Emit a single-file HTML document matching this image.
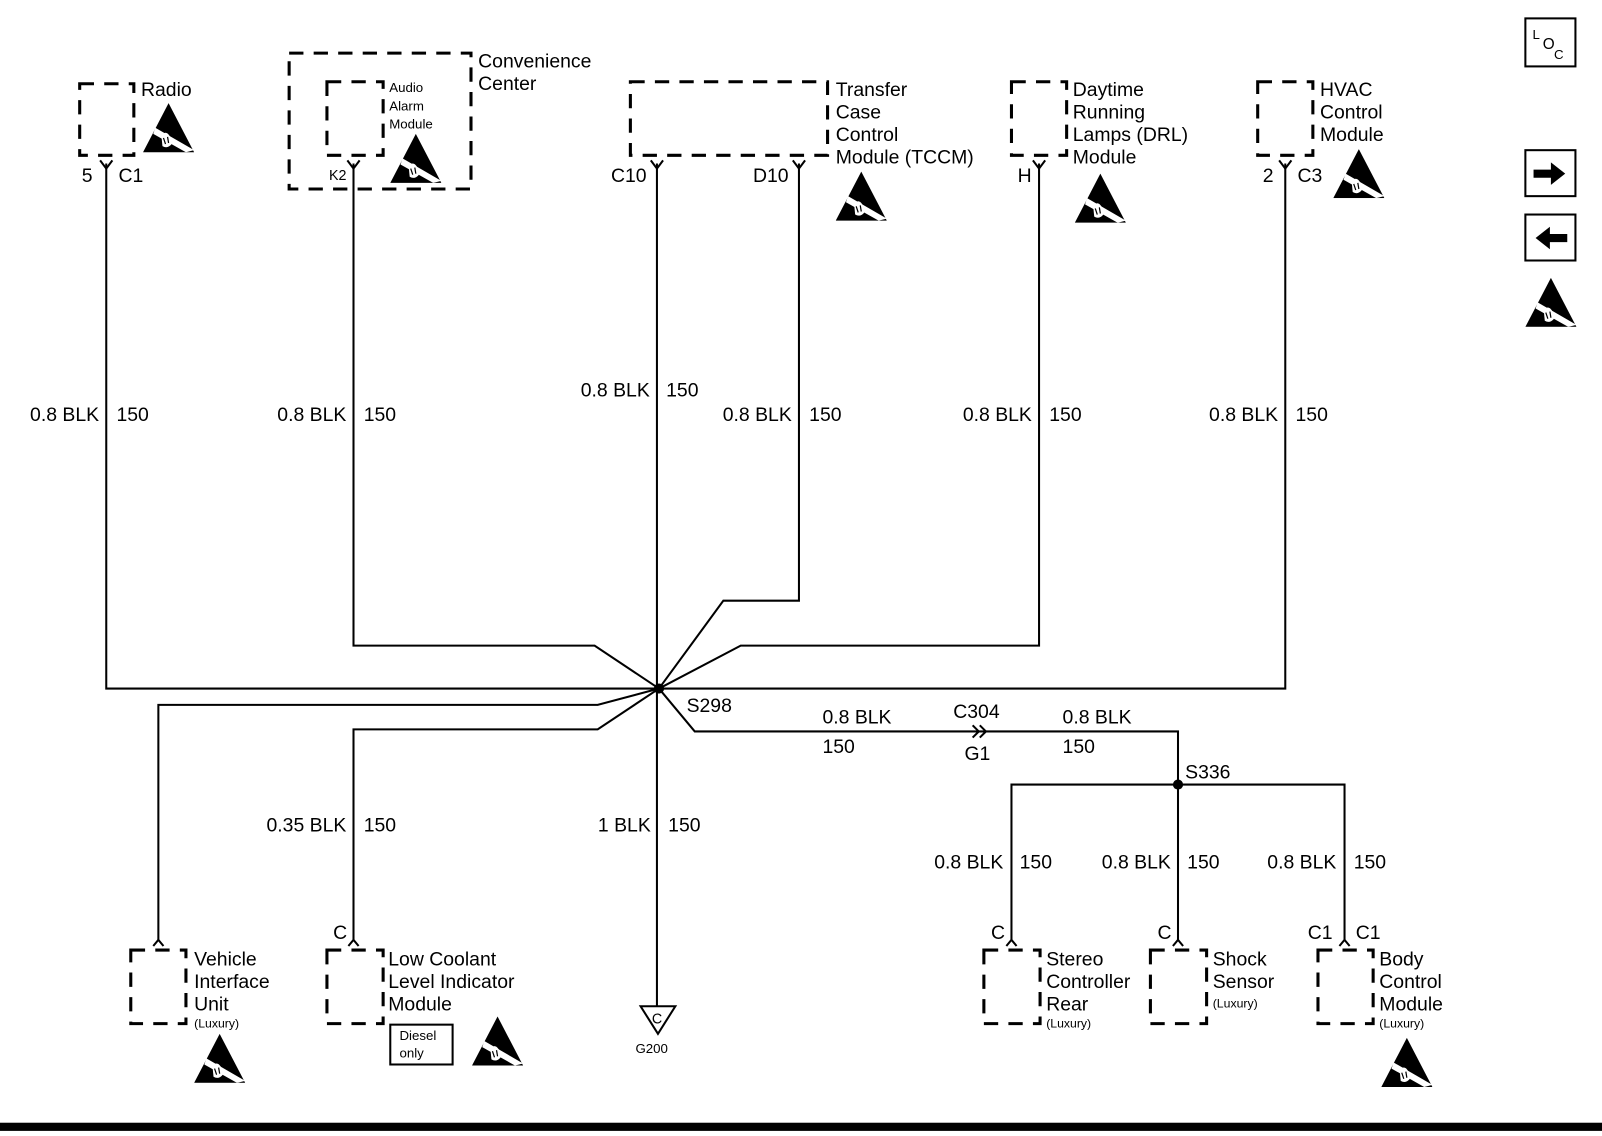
<!DOCTYPE html>
<html><head><meta charset="utf-8"><style>html,body{margin:0;padding:0;background:#fff}svg{display:block}</style></head>
<body>
<svg width="1602" height="1136" viewBox="0 0 1568 1112" preserveAspectRatio="none" xmlns="http://www.w3.org/2000/svg" font-family="Liberation Sans, sans-serif" font-size="19">
<defs>
<symbol id="esd" viewBox="0 0 50 48">
<polygon points="25,0 50,48 0,48" fill="#000"/>
<polygon points="12,24 50,46 42,48 10,30" fill="#fff"/>
<path d="M18,32 q4,-6 8,0 l2,8 q-4,5 -9,2 z" fill="#fff"/>
<path d="M20,34 l2,6 M24,33 l1,6" stroke="#000" stroke-width="1.2"/>
</symbol>
</defs>
<g fill="none" stroke="#000" stroke-width="3" stroke-dasharray="14 10">
<rect x="78" y="82" width="53" height="70"/>
<rect x="283" y="52" width="178" height="133"/>
<rect x="320" y="80" width="55" height="72"/>
<rect x="617" y="80" width="193" height="72"/>
<rect x="990" y="80" width="54" height="72"/>
<rect x="1231" y="80" width="54" height="72"/>
<rect x="128" y="930" width="54" height="72"/>
<rect x="320" y="930" width="55" height="72"/>
<rect x="963" y="930" width="55" height="72"/>
<rect x="1126" y="930" width="55" height="72"/>
<rect x="1290" y="930" width="54" height="72"/>
</g>
<g fill="none" stroke="#000" stroke-width="2">
<!-- top wires -->
<polyline points="104,160 104,674 1258,674 1258,160"/>
<polyline points="346,160 346,632 582,632 645,674"/>
<polyline points="643,160 643,985"/>
<polyline points="782,160 782,588 708,588 645,674"/>
<polyline points="1017,160 1017,632 725,632 645,674"/>
<!-- lower -->
<polyline points="645,674 585,690 155,690 155,920"/>
<polyline points="645,674 585,714 346,714 346,920"/>
<polyline points="645,674 680,716 1153,716 1153,920"/>
<polyline points="990,920 990,768 1316,768 1316,920"/>
<!-- Y connectors -->
<path d="M98,157 L104,165 L110,157 M340,157 L346,165 L352,157 M637,157 L643,165 L649,157 M776,157 L782,165 L788,157 M1011,157 L1017,165 L1023,157 M1252,157 L1258,165 L1264,157"/>
<path d="M150,926 L155,920 L160,926 M341,926 L346,920 L351,926 M985,926 L990,920 L995,926 M1148,926 L1153,920 L1158,926 M1311,926 L1316,920 L1321,926"/>
<path d="M952,710 L958,716 L952,722 M959,710 L965,716 L959,722"/>
<polygon points="627,985 661,985 644,1012"/>
<rect x="382" y="1003" width="61" height="39"/>
<rect x="1493" y="18" width="49" height="47"/>
<rect x="1493" y="147" width="49" height="45"/>
<rect x="1493" y="210" width="49" height="45"/>
</g>
<circle cx="645" cy="674" r="5" fill="#000"/>
<circle cx="1153" cy="768" r="5" fill="#000"/>
<rect x="0" y="1099" width="1568" height="8" fill="#000"/>
<polygon points="1501,166 1518,166 1518,159 1532,170 1518,181 1518,174 1501,174" fill="#000"/>
<polygon points="1534,229 1517,229 1517,222 1503,233 1517,244 1517,237 1534,237" fill="#000"/>
<use href="#esd" x="140" y="100" width="50" height="50"/>
<use href="#esd" x="382" y="130" width="50" height="50"/>
<use href="#esd" x="818" y="167" width="50" height="50"/>
<use href="#esd" x="1052" y="170" width="50" height="48"/>
<use href="#esd" x="1305" y="146" width="50" height="48"/>
<use href="#esd" x="190" y="1012" width="50" height="48"/>
<use href="#esd" x="462" y="995" width="50" height="48"/>
<use href="#esd" x="1352" y="1016" width="50" height="48"/>
<use href="#esd" x="1493" y="272" width="50" height="48"/>
<g fill="#000">
<text x="1500" y="38" font-size="13">L</text><text x="1510" y="48" font-size="15">O</text><text x="1521" y="58" font-size="13">C</text>
<text x="138" y="94">Radio</text>
<text x="80" y="178">5</text><text x="116" y="178">C1</text>
<text x="468" y="66">Convenience</text><text x="468" y="88">Center</text>
<g font-size="13"><text x="381" y="90">Audio</text><text x="381" y="108">Alarm</text><text x="381" y="126">Module</text></g>
<text x="322" y="176" font-size="14">K2</text>
<text x="818" y="94">Transfer</text><text x="818" y="116">Case</text><text x="818" y="138">Control</text><text x="818" y="160">Module (TCCM)</text>
<text x="598" y="178">C10</text><text x="737" y="178">D10</text>
<text x="1050" y="94">Daytime</text><text x="1050" y="116">Running</text><text x="1050" y="138">Lamps (DRL)</text><text x="1050" y="160">Module</text>
<text x="996" y="178">H</text>
<text x="1292" y="94">HVAC</text><text x="1292" y="116">Control</text><text x="1292" y="138">Module</text>
<text x="1236" y="178">2</text><text x="1270" y="178">C3</text>
<g text-anchor="end">
<text x="97" y="412">0.8 BLK</text><text x="339" y="412">0.8 BLK</text><text x="636" y="388">0.8 BLK</text><text x="775" y="412">0.8 BLK</text><text x="1010" y="412">0.8 BLK</text><text x="1251" y="412">0.8 BLK</text>
<text x="339" y="814">0.35 BLK</text><text x="637" y="814">1 BLK</text>
<text x="982" y="850">0.8 BLK</text><text x="1146" y="850">0.8 BLK</text><text x="1308" y="850">0.8 BLK</text>
</g>
<text x="114" y="412">150</text><text x="356" y="412">150</text><text x="652" y="388">150</text><text x="792" y="412">150</text><text x="1027" y="412">150</text><text x="1268" y="412">150</text>
<text x="356" y="814">150</text><text x="654" y="814">150</text>
<text x="998" y="850">150</text><text x="1162" y="850">150</text><text x="1325" y="850">150</text>
<text x="672" y="697">S298</text>
<text x="805" y="708">0.8 BLK</text><text x="805" y="737">150</text>
<text x="933" y="703">C304</text><text x="944" y="744">G1</text>
<text x="1040" y="708">0.8 BLK</text><text x="1040" y="737">150</text>
<text x="1160" y="762">S336</text>
<text x="190" y="945">Vehicle</text><text x="190" y="967">Interface</text><text x="190" y="989">Unit</text><text x="190" y="1006" font-size="12">(Luxury)</text>
<text x="326" y="919">C</text>
<text x="380" y="945">Low Coolant</text><text x="380" y="967">Level Indicator</text><text x="380" y="989">Module</text>
<text x="391" y="1018" font-size="13">Diesel</text><text x="391" y="1035" font-size="13">only</text>
<text x="638" y="1002" font-size="14">C</text><text x="622" y="1031" font-size="13">G200</text>
<text x="970" y="919">C</text>
<text x="1024" y="945">Stereo</text><text x="1024" y="967">Controller</text><text x="1024" y="989">Rear</text><text x="1024" y="1006" font-size="12">(Luxury)</text>
<text x="1133" y="919">C</text>
<text x="1187" y="945">Shock</text><text x="1187" y="967">Sensor</text><text x="1187" y="986" font-size="12">(Luxury)</text>
<text x="1280" y="919">C1</text><text x="1327" y="919">C1</text>
<text x="1350" y="945">Body</text><text x="1350" y="967">Control</text><text x="1350" y="989">Module</text><text x="1350" y="1006" font-size="12">(Luxury)</text>
</g>
</svg>
</body></html>
